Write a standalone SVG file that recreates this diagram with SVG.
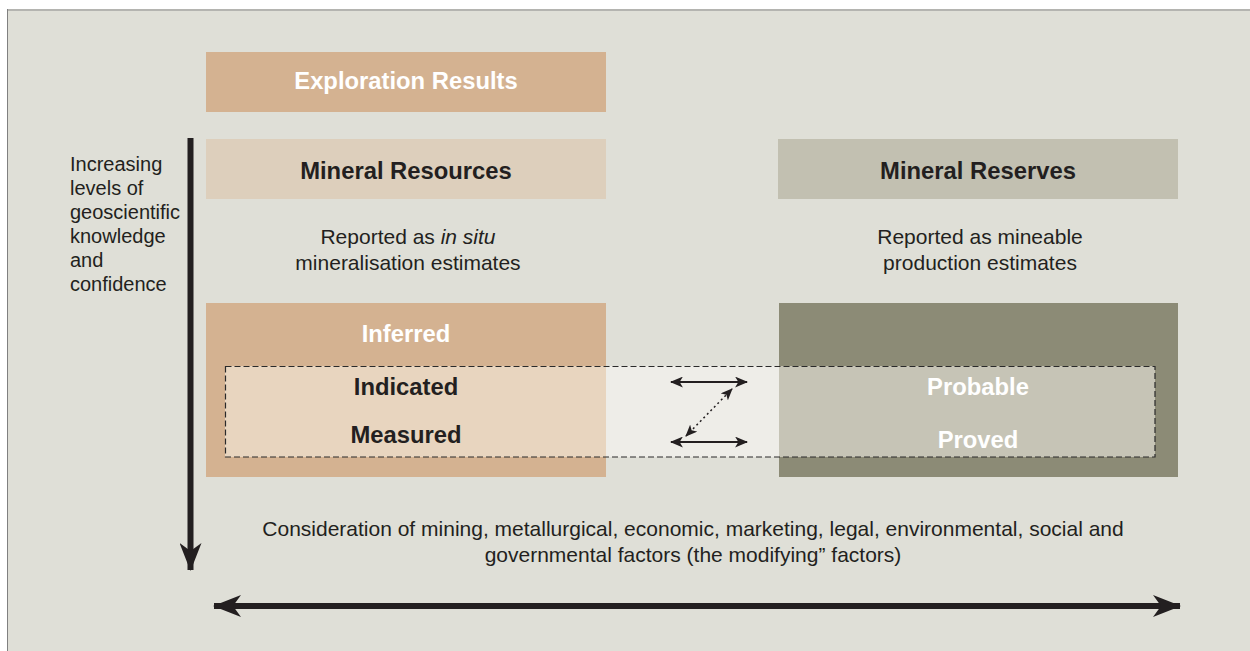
<svg xmlns="http://www.w3.org/2000/svg" width="1250" height="651" viewBox="0 0 1250 651">
<defs>
<style>
.b{font-family:"Liberation Sans",Arial,sans-serif;font-weight:bold;font-size:23.8px;text-anchor:middle}
.r{font-family:"Liberation Sans",Arial,sans-serif;font-size:20px;fill:#231f20}
.m{font-size:21px}
.c{text-anchor:middle}
.w{fill:#ffffff}
.d{fill:#231f20}
</style>
<marker id="ah" viewBox="0 0 12 10" refX="11" refY="5" markerWidth="13" markerHeight="11" markerUnits="userSpaceOnUse" orient="auto-start-reverse">
<path d="M0,0 L12,5 L0,10 L3,5 Z" fill="#231f20"/>
</marker>
<marker id="ahs" viewBox="0 0 12 10" refX="11" refY="5" markerWidth="12" markerHeight="10" markerUnits="userSpaceOnUse" orient="auto-start-reverse">
<path d="M0,0 L12,5 L0,10 L3,5 Z" fill="#231f20"/>
</marker>
<marker id="big" viewBox="0 0 28 22" refX="27" refY="11" markerWidth="28" markerHeight="22" markerUnits="userSpaceOnUse" orient="auto-start-reverse">
<path d="M0,0 L28,11 L0,22 L8,11 Z" fill="#231f20"/>
</marker>
</defs>
<rect x="0" y="0" width="1250" height="651" fill="#ffffff"/>
<rect x="7" y="9" width="1243" height="642" fill="#dfdfd7"/>
<line x1="7" y1="10" x2="1250" y2="10" stroke="#b4b4b0" stroke-width="2"/>
<line x1="7.5" y1="9" x2="7.5" y2="651" stroke="#808080" stroke-width="1"/>

<g id="exploration">
<rect x="206" y="52" width="400" height="60" fill="#d4b291"/>
<text class="b w" x="406" y="89">Exploration Results</text>
</g>
<g id="resources">
<rect x="206" y="139" width="400" height="60" fill="#ddcfbc"/>
<text class="b d" x="406" y="178.5">Mineral Resources</text>
<text class="r m c" x="408" y="244">Reported as <tspan font-style="italic">in situ</tspan></text>
<text class="r m c" x="408" y="270">mineralisation estimates</text>
</g>
<g id="reserves">
<rect x="778" y="139" width="400" height="60" fill="#c2c0b1"/>
<text class="b d" x="978" y="178.5">Mineral Reserves</text>
<text class="r m c" x="980" y="244">Reported as mineable</text>
<text class="r m c" x="980" y="270">production estimates</text>
</g>
<g id="inferred">
<rect x="206" y="303" width="400" height="174" fill="#d4b291"/>
<text class="b w" x="406" y="342">Inferred</text>
</g>
<g id="reserve-box">
<rect x="779" y="303" width="399" height="174" fill="#8c8b76"/>
</g>
<g id="overlap">
<rect x="225" y="366" width="381" height="91" fill="#e8d5bf"/>
<rect x="606" y="366" width="173" height="91" fill="#eeede8"/>
<rect x="779" y="366" width="376" height="91" fill="#c6c4b6"/>
<rect x="225.5" y="366.5" width="929.5" height="90.5" fill="none" stroke="#2a2a2a" stroke-width="1.2" stroke-dasharray="6,3"/>
</g>
<g id="indicated"><text class="b d" x="406" y="394.5">Indicated</text></g>
<g id="measured"><text class="b d" x="406" y="442.5">Measured</text></g>
<g id="probable"><text class="b w" x="978" y="394.5">Probable</text></g>
<g id="proved"><text class="b w" x="978" y="447.5">Proved</text></g>
<g id="left-label">
<text class="r" x="70" y="170.5">Increasing</text>
<text class="r" x="70" y="194.5">levels of</text>
<text class="r" x="70" y="218.5">geoscientific</text>
<text class="r" x="70" y="242.5">knowledge</text>
<text class="r" x="70" y="266.5">and</text>
<text class="r" x="70" y="290.5">confidence</text>
</g>
<g id="bottom-label">
<text class="r m c" x="693" y="536">Consideration of mining, metallurgical, economic, marketing, legal, environmental, social and</text>
<text class="r m c" x="693" y="562">governmental factors (the modifying” factors)</text>
</g>
<g id="connectors" fill="none" stroke="#231f20">
<line x1="190.5" y1="138" x2="190.5" y2="570" stroke-width="6" marker-end="url(#big)"/>
<line x1="214" y1="606" x2="1180" y2="606" stroke-width="6" marker-start="url(#big)" marker-end="url(#big)"/>
<line x1="671" y1="382" x2="747" y2="382" stroke-width="2" marker-start="url(#ah)" marker-end="url(#ah)"/>
<line x1="671" y1="442" x2="747" y2="442" stroke-width="2" marker-start="url(#ah)" marker-end="url(#ah)"/>
<line x1="686" y1="436" x2="732" y2="389" stroke-width="1.5" stroke-dasharray="2,3" marker-start="url(#ahs)" marker-end="url(#ahs)"/>
</g>
</svg>
